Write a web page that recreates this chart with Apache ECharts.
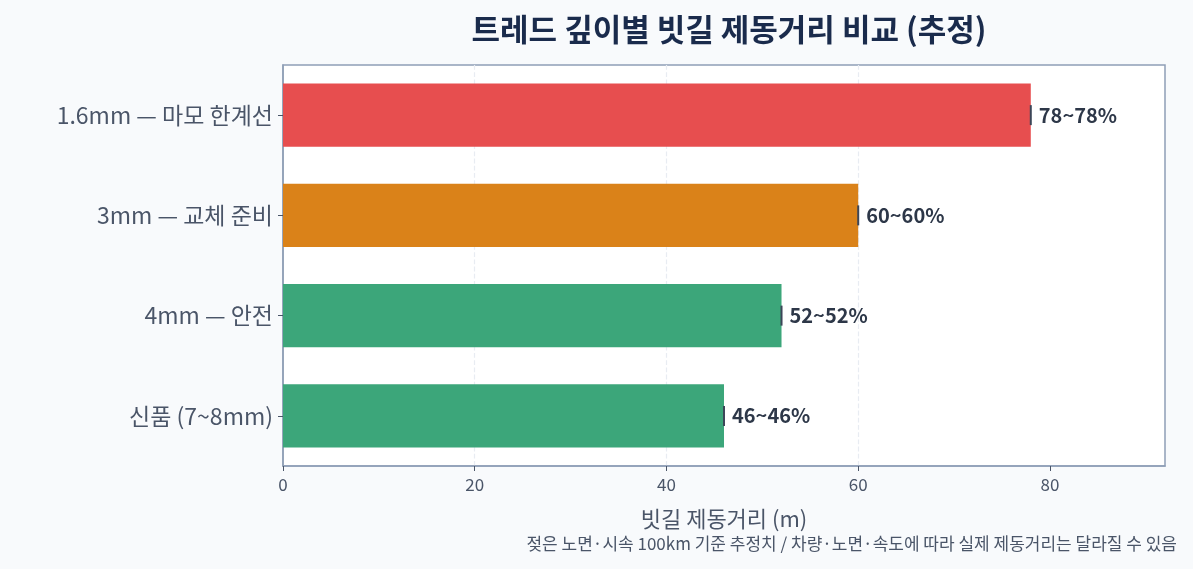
<!DOCTYPE html>
<html>
<head>
<meta charset="utf-8">
<script src="https://cdn.jsdelivr.net/npm/echarts@6/dist/echarts.min.js"></script>
<style>
  html, body { margin: 0; padding: 0; background: #f8fafc; }
  #chart { width: 1193px; height: 569px; }
</style>
</head>
<body>
<div id="chart"></div>
<script>
// 아래에서 위 순서 (category axis bottom → top)
var categories = ['신품 (7~8mm)', '4mm — 안전', '3mm — 교체 준비', '1.6mm — 마모 한계선'];
var distances = [46, 52, 60, 78];
var rangeLow = [46, 52, 60, 78];
var rangeHigh = [46, 52, 60, 78];
var barColors = ['#3ca67a', '#3ca67a', '#da8219', '#e74e4f'];
var xTicks = [0, 20, 40, 60, 80];

var font = '"Noto Sans CJK KR", "Noto Sans", sans-serif';
var textColor = '#4a5568';

var chart = echarts.init(document.getElementById('chart'));

var option = {
  backgroundColor: '#f8fafc',
  textStyle: { fontFamily: font },
  title: {
    text: '트레드 깊이별 빗길 제동거리 비교 (추정)',
    left: 724, top: 9, textAlign: 'center',
    textStyle: { fontSize: 31, fontWeight: 'bold', color: '#1a2b4c', fontFamily: font }
  },
  grid: {
    left: 283, right: 28, top: 65, bottom: 103,
    show: true, backgroundColor: '#ffffff', borderColor: '#8f9fb6', borderWidth: 1.5
  },
  xAxis: {
    type: 'value', min: 0, max: 92, interval: 20,
    name: '빗길 제동거리 (m)', nameLocation: 'middle', nameGap: 42,
    nameTextStyle: { fontSize: 22, color: textColor, fontFamily: font },
    axisLine: { show: true, lineStyle: { color: '#8f9fb6', width: 1.5 } },
    axisTick: { show: true, length: 5, customValues: xTicks, lineStyle: { color: '#4a5568' } },
    axisLabel: { fontSize: 17, color: textColor, margin: 10, customValues: xTicks },
    splitLine: {
      show: true, showMinLine: false, showMaxLine: false,
      lineStyle: { color: '#e8ecf2', type: 'dashed', width: 1.2 }
    }
  },
  yAxis: {
    type: 'category', data: categories,
    axisLine: { show: true, lineStyle: { color: '#8f9fb6', width: 1.5 } },
    axisTick: { show: true, alignWithLabel: true, length: 5, lineStyle: { color: '#4a5568' } },
    axisLabel: { fontSize: 23, color: textColor, margin: 10 }
  },
  series: [
    {
      type: 'bar',
      data: distances.map(function (v, i) {
        return { value: v, itemStyle: { color: barColors[i] } };
      }),
      barWidth: '63%',
      label: {
        show: true, position: 'right', distance: 8,
        fontSize: 20, fontWeight: 'bold', color: '#2d3748', fontFamily: font,
        formatter: function (p) {
          return rangeLow[p.dataIndex] + '~' + rangeHigh[p.dataIndex] + '%';
        }
      },
      z: 2
    },
    {
      type: 'custom',
      data: distances.map(function (v, i) { return [rangeLow[i], rangeHigh[i], i]; }),
      renderItem: function (params, api) {
        var lo = api.coord([api.value(0), api.value(2)]);
        var hi = api.coord([api.value(1), api.value(2)]);
        return {
          type: 'group',
          children: [
            { type: 'line', shape: { x1: lo[0], y1: lo[1], x2: hi[0], y2: hi[1] },
              style: { stroke: '#3c4658', lineWidth: 2 } },
            { type: 'line', shape: { x1: hi[0], y1: hi[1] - 10, x2: hi[0], y2: hi[1] + 10 },
              style: { stroke: '#3c4658', lineWidth: 2 } }
          ]
        };
      },
      encode: { x: [0, 1], y: 2 },
      z: 3
    }
  ],
  graphic: [
    {
      type: 'text', right: 16, top: 535,
      style: {
        text: '젖은 노면·시속 100km 기준 추정치 / 차량·노면·속도에 따라 실제 제동거리는 달라질 수 있음',
        fontSize: 17, fill: '#4a5568', fontFamily: font
      }
    }
  ]
};

chart.setOption(option);
</script>
</body>
</html>
